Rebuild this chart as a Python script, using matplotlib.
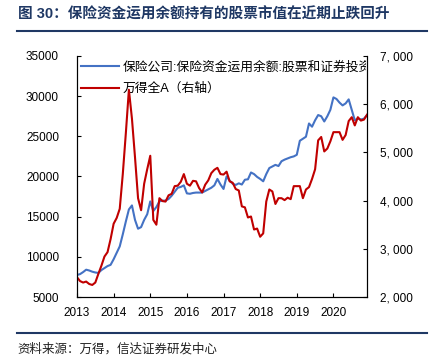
import numpy as np
import matplotlib
matplotlib.use("Agg")
from matplotlib import pyplot as plt
from matplotlib.lines import Line2D
from matplotlib.ticker import FuncFormatter
from matplotlib.transforms import Bbox

plt.rcParams['font.family'] = ['Liberation Sans', 'Noto Sans CJK SC']

# monthly values, first point = start of 2013 on the drawn axis
insurance_stock = [
    7740, 7850, 8100, 8400, 8300, 8150, 8050, 8000, 8350, 8600, 8850, 9000,
    9700, 10500, 11300, 12800, 14400, 15900, 16400, 14600, 13500, 13700, 14600, 15300,
    16900, 15700, 16200, 16900, 17000, 17000, 17200, 17600, 18100, 18600, 18700, 18900,
    17900, 17850, 17950, 18000, 18000, 18000, 18200, 18400, 18600, 18900, 19700, 19000,
    18450, 20000, 19500, 19100, 18950, 19150, 19000, 19600, 19650, 20500, 20300, 19950,
    19700, 19400, 20300, 21050, 21250, 21450, 21300, 21900, 22100, 22250, 22400, 22500,
    22700, 24450, 24700, 24950, 26600, 26200, 27000, 27650, 27500, 26850, 27500, 28300,
    29850, 29650, 29200, 28850, 29100, 29600, 28300, 27000, 27200, 27100, 27200, 27650,
]
wind_all_a = [
    2410, 2330, 2300, 2320, 2270, 2250, 2300, 2480, 2650, 2840, 2930, 3200,
    3520, 3640, 3830, 4550, 5400, 6300, 5700, 4900, 4050, 3800, 4350, 4650,
    4930, 3600, 3500, 4050, 3990, 3980, 4110, 4140, 4300, 4310, 4390, 4550,
    4350, 4310, 4410, 4400, 4260, 4170, 4330, 4420, 4570, 4640, 4680, 4550,
    4540, 4600, 4400, 4370, 4240, 4210, 3880, 3860, 3650, 3670, 3400, 3420,
    3250, 3320, 3980, 4230, 4190, 3930, 4050, 4050, 4010, 4060, 4030, 4300,
    4300, 4300, 4050, 4230, 4280, 4450, 4650, 5250, 5320, 5020, 5080, 5230,
    5420, 5420, 5420, 5260, 5360, 5650, 5730, 5560, 5730, 5660, 5680, 5780,
]
years = [2013, 2014, 2015, 2016, 2017, 2018, 2019, 2020]

x = 2013 + np.arange(len(insurance_stock)) / 12

fig = plt.figure(figsize=(4.35, 3.62), dpi=100)
ax = fig.add_axes([77 / 435, 1 - 297 / 362, 290 / 435, 241 / 362])
ax2 = ax.twinx()

l1, = ax.plot(x, insurance_stock, color='#4472C4', lw=1.5,
              label='保险公司:保险资金运用余额:股票和证券投资')
l2, = ax2.plot(x, wind_all_a, color='#C00000', lw=1.5, label='万得全A（右轴）')

ax.set_xlim(2013, x[-1])
ax.set_ylim(5000, 35000)
ax.set_yticks(range(5000, 35001, 5000))
ax2.set_ylim(2000, 7000)
ax2.set_yticks(range(2000, 7001, 1000))
ax2.yaxis.set_major_formatter(FuncFormatter(lambda v, p: f"{int(v):,}".replace(',', ', ')))
ax.set_xticks(years)
ax.set_xticklabels([str(y) for y in years])

for a in (ax, ax2):
    a.spines['top'].set_visible(False)
    for s in a.spines.values():
        s.set_linewidth(0.8)
ax.tick_params(axis='y', direction='in', length=3, pad=13, labelsize=8.5)
ax.tick_params(axis='x', direction='in', length=3, pad=7, labelsize=8.5)
ax2.tick_params(axis='y', direction='in', length=3, pad=9, labelsize=8.5)

leg = ax.legend(handles=[l1, l2], loc='upper left', frameon=False,
                bbox_to_anchor=(-0.005, 1.0), prop={'size': 9.2},
                handlelength=3.0, handletextpad=0.3, labelspacing=0.75, borderaxespad=0)
clip = Bbox([[0, 0], [366, 362]])
for t in leg.get_texts():
    t.set_clip_on(True)
    t.set_clip_box(clip)

navy = '#1F3864'
fig.text(18 / 435, 1 - 15 / 362, '图 30：保险资金运用余额持有的股票市值在近期止跌回升',
         fontsize=10.5, fontweight='bold', color=navy, va='center', ha='left')
fig.add_artist(Line2D([17 / 435, 427 / 435], [1 - 31 / 362] * 2, color=navy, lw=1.5))
fig.add_artist(Line2D([17 / 435, 427 / 435], [1 - 333 / 362] * 2, color=navy, lw=1.5))
fig.text(17 / 435, 1 - 349 / 362, '资料来源：万得，信达证券研发中心',
         fontsize=9, color='#222222', va='center', ha='left', style='italic')

fig.savefig('out.png', dpi=100)
